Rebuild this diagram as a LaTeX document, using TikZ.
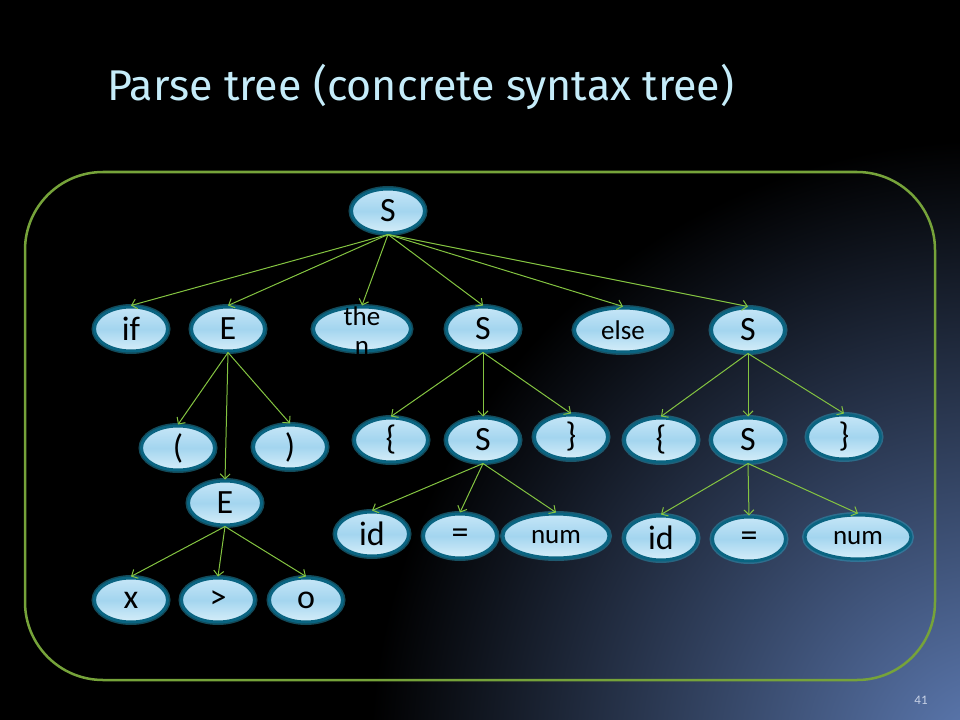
\documentclass[tikz,border=0pt]{standalone}
\usepackage{fontspec}
\setmainfont{Carlito}
\newfontfamily\titlefont{Fira Sans}
\usetikzlibrary{shapes.geometric,arrows.meta}
\definecolor{edgegreen}{HTML}{84C441}
\definecolor{framegreen}{HTML}{76A33A}
\definecolor{tokborder}{HTML}{0A6481}
\definecolor{tokglow}{HTML}{2AA6C8}
\definecolor{toktop}{HTML}{C6E6F7}
\definecolor{tokmid}{HTML}{A3D5EF}
\definecolor{tokbot}{HTML}{D6EEF9}
\definecolor{titleblue}{HTML}{C5ECF9}
\definecolor{glowblue}{HTML}{5F7DB6}
\definecolor{pagegray}{HTML}{C8D2E6}
\tikzset{
  tok/.style={ellipse, draw=tokborder, line width=3bp,
    preaction={draw=tokglow, line width=6bp, opacity=0.45},
    top color=toktop, bottom color=tokbot, middle color=tokmid,
    minimum width=73bp, minimum height=44bp, inner sep=0pt,
    font=\fontsize{34bp}{36bp}\selectfont},
  tokwide/.style={tok, minimum width=97bp},
  toknum/.style={tok, minimum width=106bp},
  smalltxt/.style={font=\fontsize{27bp}{29bp}\selectfont, align=center, inner sep=0pt},
  edge/.style={draw=edgegreen, line width=1bp, -{Straight Barb[length=5bp,width=10bp]}}
}
\begin{document}
\begin{tikzpicture}[x=1bp,y=-1bp]
\useasboundingbox (0,0) rectangle (960,720);
\fill[black] (0,0) rectangle (960,720);
\begin{scope}
\clip (0,0) rectangle (960,720);
\shade[inner color=glowblue, outer color=black] (990,760) circle[radius=620bp];
\end{scope}

\node[anchor=base west, text=titleblue, inner sep=0pt,
  font=\titlefont\fontsize{43bp}{47bp}\selectfont] (title) at (107,101) {Parse tree (concrete syntax tree)};

\draw[framegreen, line width=2.5bp, rounded corners=78bp] (25,172) rectangle (935,680);

\node[text=pagegray, font=\fontsize{13bp}{15bp}\selectfont] (pagenum) at (921,700) {41};

% nodes
\node[tok] (root) at (388,211) {S};
\node[tok] (if) at (131,329) {if};
\node[tok] (E1) at (228,329) {E};
\node[tokwide] (then) at (362,329) {};
\node[smalltxt] (thenlbl) at (362,331) {the\\n};
\node[tok] (S1) at (483,329) {S};
\node[tokwide] (else) at (623,330) {};
\node[smalltxt] (elselbl) at (623,330) {else};
\node[tok] (S2) at (748,330) {S};

\node[tok] (lp) at (178,448) {(};
\node[tok] (rp) at (290,447) {)};
\node[tok] (E2) at (225,503) {E};
\node[tok] (x) at (131,600) {x};
\node[tok] (gt) at (218,600) {>};
\node[tok] (o) at (306,600) {o};

\node[tok] (lb1) at (391,440) {\{};
\node[tok] (S3) at (483,440) {S};
\node[tok] (rb1) at (571,437) {\}};
\node[tok] (lb2) at (661,440) {\{};
\node[tok] (S4) at (748,440) {S};
\node[tok] (rb2) at (844,437) {\}};

\node[tok] (id1) at (372,534) {id};
\node[tok] (eq1) at (460,536) {=};
\node[toknum] (num1) at (556,536) {};
\node[smalltxt] (num1lbl) at (556,537) {num};
\node[tok] (id2) at (661,538) {id};
\node[tok] (eq2) at (749,539) {=};
\node[toknum] (num2) at (858,537) {};
\node[smalltxt] (num2lbl) at (858,538) {num};

% edges
\foreach \c in {if,E1,then,S1,else,S2} \draw[edge] (root.south) -- (\c.north);
\foreach \c in {lp,E2,rp} \draw[edge] (E1.south) -- (\c.north);
\foreach \c in {x,gt,o} \draw[edge] (E2.south) -- (\c.north);
\foreach \c in {lb1,S3,rb1} \draw[edge] (S1.south) -- (\c.north);
\foreach \c in {lb2,S4,rb2} \draw[edge] (S2.south) -- (\c.north);
\foreach \c in {id1,eq1,num1} \draw[edge] (S3.south) -- (\c.north);
\foreach \c in {id2,eq2,num2} \draw[edge] (S4.south) -- (\c.north);
\end{tikzpicture}
\end{document}
